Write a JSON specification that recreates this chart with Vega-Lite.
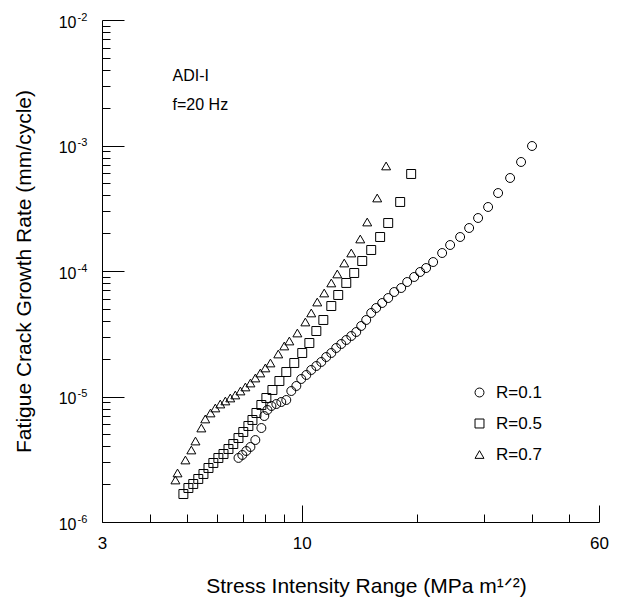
{
  "$schema": "https://vega.github.io/schema/vega-lite/v6.json",
  "width": 497,
  "height": 502,
  "autosize": {"type": "none"},
  "padding": {"left": 102, "top": 20, "right": 26, "bottom": 77},
  "background": "white",
  "config": {"view": {"stroke": null}, "axis": {"grid": false}, "font": "Liberation Sans"},
  "datasets": {
    "pts": [
      {"R": "R=0.1", "dK": 6.83, "dadN": 3.24e-6},
      {"R": "R=0.1", "dK": 6.99, "dadN": 3.42e-6},
      {"R": "R=0.1", "dK": 7.16, "dadN": 3.68e-6},
      {"R": "R=0.1", "dK": 7.34, "dadN": 3.96e-6},
      {"R": "R=0.1", "dK": 7.56, "dadN": 4.50e-6},
      {"R": "R=0.1", "dK": 7.84, "dadN": 5.61e-6},
      {"R": "R=0.1", "dK": 7.98, "dadN": 6.99e-6},
      {"R": "R=0.1", "dK": 8.13, "dadN": 7.81e-6},
      {"R": "R=0.1", "dK": 8.33, "dadN": 8.40e-6},
      {"R": "R=0.1", "dK": 8.58, "dadN": 8.71e-6},
      {"R": "R=0.1", "dK": 8.84, "dadN": 9.04e-6},
      {"R": "R=0.1", "dK": 9.11, "dadN": 9.38e-6},
      {"R": "R=0.1", "dK": 9.39, "dadN": 1.106e-5},
      {"R": "R=0.1", "dK": 9.68, "dadN": 1.213e-5},
      {"R": "R=0.1", "dK": 9.97, "dadN": 1.379e-5},
      {"R": "R=0.1", "dK": 10.28, "dadN": 1.484e-5},
      {"R": "R=0.1", "dK": 10.59, "dadN": 1.627e-5},
      {"R": "R=0.1", "dK": 10.92, "dadN": 1.750e-5},
      {"R": "R=0.1", "dK": 11.25, "dadN": 1.884e-5},
      {"R": "R=0.1", "dK": 11.59, "dadN": 2.064e-5},
      {"R": "R=0.1", "dK": 11.95, "dadN": 2.221e-5},
      {"R": "R=0.1", "dK": 12.31, "dadN": 2.435e-5},
      {"R": "R=0.1", "dK": 12.69, "dadN": 2.620e-5},
      {"R": "R=0.1", "dK": 13.08, "dadN": 2.820e-5},
      {"R": "R=0.1", "dK": 13.48, "dadN": 3.034e-5},
      {"R": "R=0.1", "dK": 13.89, "dadN": 3.265e-5},
      {"R": "R=0.1", "dK": 14.31, "dadN": 3.646e-5},
      {"R": "R=0.1", "dK": 14.75, "dadN": 4.07e-5},
      {"R": "R=0.1", "dK": 15.20, "dadN": 4.63e-5},
      {"R": "R=0.1", "dK": 15.66, "dadN": 5.07e-5},
      {"R": "R=0.1", "dK": 16.24, "dadN": 5.56e-5},
      {"R": "R=0.1", "dK": 16.84, "dadN": 6.09e-5},
      {"R": "R=0.1", "dK": 17.46, "dadN": 6.80e-5},
      {"R": "R=0.1", "dK": 18.21, "dadN": 7.32e-5},
      {"R": "R=0.1", "dK": 18.88, "dadN": 8.17e-5},
      {"R": "R=0.1", "dK": 19.69, "dadN": 8.96e-5},
      {"R": "R=0.1", "dK": 20.41, "dadN": 9.82e-5},
      {"R": "R=0.1", "dK": 21.16, "dadN": 1.056e-4},
      {"R": "R=0.1", "dK": 22.08, "dadN": 1.179e-4},
      {"R": "R=0.1", "dK": 23.31, "dadN": 1.391e-4},
      {"R": "R=0.1", "dK": 24.46, "dadN": 1.611e-4},
      {"R": "R=0.1", "dK": 25.98, "dadN": 1.866e-4},
      {"R": "R=0.1", "dK": 27.43, "dadN": 2.201e-4},
      {"R": "R=0.1", "dK": 28.95, "dadN": 2.644e-4},
      {"R": "R=0.1", "dK": 30.75, "dadN": 3.236e-4},
      {"R": "R=0.1", "dK": 32.66, "dadN": 4.18e-4},
      {"R": "R=0.1", "dK": 35.11, "dadN": 5.51e-4},
      {"R": "R=0.1", "dK": 37.51, "dadN": 7.39e-4},
      {"R": "R=0.1", "dK": 40.07, "dadN": 9.91e-4},
      {"R": "R=0.5", "dK": 4.90, "dadN": 1.671e-6},
      {"R": "R=0.5", "dK": 5.05, "dadN": 1.866e-6},
      {"R": "R=0.5", "dK": 5.20, "dadN": 2.009e-6},
      {"R": "R=0.5", "dK": 5.36, "dadN": 2.202e-6},
      {"R": "R=0.5", "dK": 5.53, "dadN": 2.413e-6},
      {"R": "R=0.5", "dK": 5.70, "dadN": 2.694e-6},
      {"R": "R=0.5", "dK": 5.87, "dadN": 2.953e-6},
      {"R": "R=0.5", "dK": 6.05, "dadN": 3.236e-6},
      {"R": "R=0.5", "dK": 6.24, "dadN": 3.483e-6},
      {"R": "R=0.5", "dK": 6.43, "dadN": 3.816e-6},
      {"R": "R=0.5", "dK": 6.62, "dadN": 4.182e-6},
      {"R": "R=0.5", "dK": 6.83, "dadN": 4.668e-6},
      {"R": "R=0.5", "dK": 7.03, "dadN": 5.214e-6},
      {"R": "R=0.5", "dK": 7.25, "dadN": 5.82e-6},
      {"R": "R=0.5", "dK": 7.43, "dadN": 6.50e-6},
      {"R": "R=0.5", "dK": 7.61, "dadN": 7.39e-6},
      {"R": "R=0.5", "dK": 7.84, "dadN": 8.56e-6},
      {"R": "R=0.5", "dK": 8.08, "dadN": 9.73e-6},
      {"R": "R=0.5", "dK": 8.38, "dadN": 1.127e-5},
      {"R": "R=0.5", "dK": 8.74, "dadN": 1.329e-5},
      {"R": "R=0.5", "dK": 9.11, "dadN": 1.567e-5},
      {"R": "R=0.5", "dK": 9.56, "dadN": 1.849e-5},
      {"R": "R=0.5", "dK": 10.03, "dadN": 2.221e-5},
      {"R": "R=0.5", "dK": 10.47, "dadN": 2.668e-5},
      {"R": "R=0.5", "dK": 10.92, "dadN": 3.325e-5},
      {"R": "R=0.5", "dK": 11.39, "dadN": 4.07e-5},
      {"R": "R=0.5", "dK": 11.95, "dadN": 5.26e-5},
      {"R": "R=0.5", "dK": 12.46, "dadN": 6.44e-5},
      {"R": "R=0.5", "dK": 13.08, "dadN": 8.03e-5},
      {"R": "R=0.5", "dK": 13.72, "dadN": 9.64e-5},
      {"R": "R=0.5", "dK": 14.40, "dadN": 1.201e-4},
      {"R": "R=0.5", "dK": 15.20, "dadN": 1.470e-4},
      {"R": "R=0.5", "dK": 16.04, "dadN": 1.866e-4},
      {"R": "R=0.5", "dK": 16.84, "dadN": 2.412e-4},
      {"R": "R=0.5", "dK": 18.10, "dadN": 3.547e-4},
      {"R": "R=0.5", "dK": 19.34, "dadN": 5.93e-4},
      {"R": "R=0.7", "dK": 4.67, "dadN": 2.161e-6},
      {"R": "R=0.7", "dK": 4.73, "dadN": 2.458e-6},
      {"R": "R=0.7", "dK": 4.96, "dadN": 3.119e-6},
      {"R": "R=0.7", "dK": 5.14, "dadN": 3.748e-6},
      {"R": "R=0.7", "dK": 5.27, "dadN": 4.418e-6},
      {"R": "R=0.7", "dK": 5.46, "dadN": 5.61e-6},
      {"R": "R=0.7", "dK": 5.59, "dadN": 6.62e-6},
      {"R": "R=0.7", "dK": 5.77, "dadN": 7.39e-6},
      {"R": "R=0.7", "dK": 5.94, "dadN": 8.10e-6},
      {"R": "R=0.7", "dK": 6.12, "dadN": 8.71e-6},
      {"R": "R=0.7", "dK": 6.31, "dadN": 9.21e-6},
      {"R": "R=0.7", "dK": 6.50, "dadN": 9.73e-6},
      {"R": "R=0.7", "dK": 6.70, "dadN": 1.028e-5},
      {"R": "R=0.7", "dK": 6.91, "dadN": 1.106e-5},
      {"R": "R=0.7", "dK": 7.12, "dadN": 1.191e-5},
      {"R": "R=0.7", "dK": 7.34, "dadN": 1.281e-5},
      {"R": "R=0.7", "dK": 7.56, "dadN": 1.404e-5},
      {"R": "R=0.7", "dK": 7.79, "dadN": 1.539e-5},
      {"R": "R=0.7", "dK": 8.03, "dadN": 1.688e-5},
      {"R": "R=0.7", "dK": 8.28, "dadN": 1.849e-5},
      {"R": "R=0.7", "dK": 8.68, "dadN": 2.181e-5},
      {"R": "R=0.7", "dK": 9.00, "dadN": 2.526e-5},
      {"R": "R=0.7", "dK": 9.28, "dadN": 2.768e-5},
      {"R": "R=0.7", "dK": 9.74, "dadN": 3.206e-5},
      {"R": "R=0.7", "dK": 10.22, "dadN": 3.924e-5},
      {"R": "R=0.7", "dK": 10.59, "dadN": 4.63e-5},
      {"R": "R=0.7", "dK": 10.98, "dadN": 5.66e-5},
      {"R": "R=0.7", "dK": 11.45, "dadN": 6.68e-5},
      {"R": "R=0.7", "dK": 11.95, "dadN": 8.03e-5},
      {"R": "R=0.7", "dK": 12.39, "dadN": 9.47e-5},
      {"R": "R=0.7", "dK": 12.92, "dadN": 1.158e-4},
      {"R": "R=0.7", "dK": 13.48, "dadN": 1.391e-4},
      {"R": "R=0.7", "dK": 14.23, "dadN": 1.799e-4},
      {"R": "R=0.7", "dK": 14.84, "dadN": 2.457e-4},
      {"R": "R=0.7", "dK": 15.76, "dadN": 3.817e-4},
      {"R": "R=0.7", "dK": 16.63, "dadN": 6.87e-4}
    ],
    "notes": [
      {"label": "ADI-I", "dK": 4.59, "dadN": 3.58e-3},
      {"label": "f=20 Hz", "dK": 4.59, "dadN": 2.10e-3}
    ]
  },
  "layer": [
    {
      "data": {"name": "pts"},
      "mark": {"type": "point", "filled": false, "color": "black", "strokeWidth": 1, "size": 80, "opacity": 1},
      "encoding": {
        "x": {
          "field": "dK", "type": "quantitative",
          "scale": {"type": "log", "domain": [3, 60], "nice": false, "zero": false},
          "axis": {
            "orient": "bottom", "values": [3, 10, 60], "labelExpr": "'' + datum.value",
            "tickSize": -17, "tickColor": "black", "tickWidth": 1,
            "domain": true, "domainColor": "black", "domainWidth": 1,
            "labelFont": "Liberation Sans", "labelFontSize": 17, "labelColor": "black",
            "labelPadding": 30, "labelFlush": false, "labelBaseline": "top", "labelOverlap": false,
            "title": "Stress Intensity Range (MPa m¹ᐟ²)",
            "titleFont": "Liberation Sans", "titleFontSize": 21, "titleFontWeight": "normal", "titleColor": "black",
            "titleX": 264, "titleY": 70, "titleBaseline": "alphabetic", "titleAlign": "center"
          }
        },
        "y": {
          "field": "dadN", "type": "quantitative",
          "scale": {"type": "log", "domain": [1e-6, 1e-2], "nice": false, "zero": false},
          "axis": {
            "orient": "left", "values": [1e-6, 1e-5, 1e-4, 1e-3, 1e-2], "labelExpr": "'10'",
            "tickSize": -22, "tickColor": "black", "tickWidth": 1,
            "domain": true, "domainColor": "black", "domainWidth": 1,
            "labelFont": "Liberation Sans", "labelFontSize": 16, "labelColor": "black",
            "labelPadding": 48, "labelAlign": "right", "labelBaseline": "alphabetic", "labelOffset": 7, "labelOverlap": false,
            "title": "Fatigue Crack Growth Rate (mm/cycle)",
            "titleFont": "Liberation Sans", "titleFontSize": 21, "titleFontWeight": "normal", "titleColor": "black",
            "titleX": -72, "titleY": 251, "titleAngle": -90, "titleBaseline": "alphabetic", "titleAlign": "center"
          }
        },
        "shape": {
          "field": "R", "type": "nominal",
          "scale": {"domain": ["R=0.1", "R=0.5", "R=0.7"], "range": ["circle", "square", "triangle-up"]},
          "legend": {
            "orient": "none", "legendX": 369, "legendY": 364, "title": null, "direction": "vertical",
            "labelFont": "Liberation Sans", "labelFontSize": 17, "labelColor": "black",
            "symbolSize": 80, "symbolStrokeWidth": 1, "symbolStrokeColor": "black", "symbolFillColor": "transparent",
            "rowPadding": 13, "labelOffset": 8, "padding": 0
          }
        }
      }
    },
    {
      "data": {"name": "notes"},
      "mark": {"type": "text", "align": "left", "baseline": "middle", "font": "Liberation Sans", "fontSize": 16, "color": "black"},
      "encoding": {
        "x": {"field": "dK", "type": "quantitative", "axis": null},
        "y": {"field": "dadN", "type": "quantitative", "axis": null},
        "text": {"field": "label"}
      }
    },
    {
      "data": {"name": "pts"},
      "mark": {"type": "point", "opacity": 0},
      "encoding": {
        "x": {
          "field": "dK", "type": "quantitative",
          "axis": {"orient": "bottom", "values": [4, 5, 6, 7, 8, 9, 20, 30, 40, 50], "labels": false, "domain": false,
                   "tickSize": -8, "tickColor": "black", "tickWidth": 1, "title": null}
        },
        "y": {
          "field": "dadN", "type": "quantitative",
          "axis": {"orient": "left",
                   "values": [2e-6, 3e-6, 4e-6, 5e-6, 6e-6, 7e-6, 8e-6, 9e-6, 2e-5, 3e-5, 4e-5, 5e-5, 6e-5, 7e-5, 8e-5, 9e-5, 2e-4, 3e-4, 4e-4, 5e-4, 6e-4, 7e-4, 8e-4, 9e-4, 2e-3, 3e-3, 4e-3, 5e-3, 6e-3, 7e-3, 8e-3, 9e-3],
                   "labels": false, "domain": false, "tickSize": -8, "tickColor": "black", "tickWidth": 1, "title": null}
        }
      }
    },
    {
      "data": {"name": "pts"},
      "mark": {"type": "point", "opacity": 0},
      "encoding": {
        "x": {"field": "dK", "type": "quantitative", "axis": null},
        "y": {
          "field": "dadN", "type": "quantitative",
          "axis": {"orient": "left", "values": [1e-6, 1e-5, 1e-4, 1e-3, 1e-2],
                   "labelExpr": "datum.value < 5e-6 ? '-6' : datum.value < 5e-5 ? '-5' : datum.value < 5e-4 ? '-4' : datum.value < 5e-3 ? '-3' : '-2'",
                   "ticks": false, "domain": false, "labelFont": "Liberation Sans", "labelFontSize": 11, "labelColor": "black",
                   "labelAlign": "left", "labelBaseline": "alphabetic", "labelPadding": 25, "labelOffset": 0, "labelOverlap": false, "title": null}
        }
      }
    }
  ],
  "resolve": {"axis": {"x": "independent", "y": "independent"}}
}
